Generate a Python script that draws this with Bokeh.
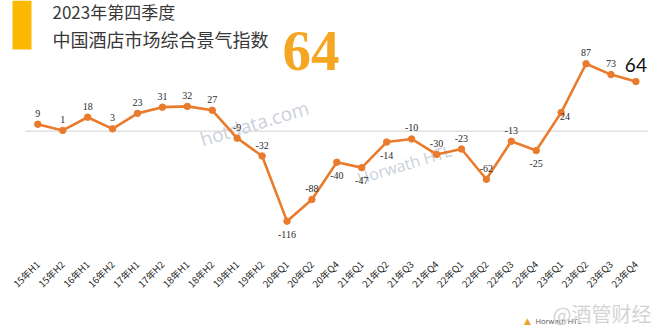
import math
from bokeh.plotting import figure
from bokeh.layouts import column
from bokeh.models import ColumnDataSource, Range1d, FixedTicker, LabelSet, Label, BoxAnnotation
from bokeh.embed import file_html
from bokeh.resources import INLINE

# ---- data ----
categories = ["15年H1", "15年H2", "16年H1", "16年H2", "17年H1", "17年H2", "18年H1", "18年H2",
              "19年H1", "19年H2", "20年Q1", "20年Q2", "20年Q4", "21年Q1", "21年Q2", "21年Q3",
              "21年Q4", "22年Q1", "22年Q2", "22年Q3", "22年Q4", "23年Q1", "23年Q2", "23年Q3", "23年Q4"]
values = [9, 1, 18, 3, 23, 31, 32, 27, -9, -32, -116, -88, -40, -47, -14, -10, -30, -23, -62,
          -13, -25, 24, 87, 73, 64]
# label placement style: "u" above the point, "d" below, "r" right-below
label_side = ["u", "u", "u", "u", "u", "u", "u", "u", "u", "u", "d", "u", "d", "d", "d", "u",
              "u", "u", "u", "u", "d", "r", "u", "u", "big"]
title_line1 = "2023年第四季度"
title_line2 = "中国酒店市场综合景气指数"
headline = str(values[-1])
watermarks = ["hotdata.com", "Horwath HTL", "@酒管财经"]

# ---- geometry (pixels) ----
W, H = 670, 334
MAIN_H = 292
FRAME_H = 250
FOOT_H = H - MAIN_H
ZERO_PX = 130.7
PX_PER_UNIT = 0.7754
STEP = 24.92
FIRST_PX = 37.3

x_start = -FIRST_PX / STEP
x_end = x_start + W / STEP
y_top = ZERO_PX / PX_PER_UNIT
y_bot = -(FRAME_H - ZERO_PX) / PX_PER_UNIT


def dx(px):
    return x_start + px / STEP


def dy(py):
    return (ZERO_PX - py) / PX_PER_UNIT


xs = list(range(len(categories)))
offsets = {"u": (0, 11), "d": (0, -13), "r": (4, -4), "big": (0, 16.5)}
small = [i for i, s in enumerate(label_side) if s != "big"]
src = ColumnDataSource(dict(
    x=[xs[i] for i in small],
    y=[values[i] for i in small],
    t=[str(values[i]) for i in small],
    xo=[offsets[label_side[i]][0] for i in small],
    yo=[offsets[label_side[i]][1] for i in small],
))
line_src = ColumnDataSource(dict(x=xs, y=values))

p = figure(frame_width=W, frame_height=FRAME_H, output_backend="svg", toolbar_location=None,
           x_range=Range1d(x_start, x_end), y_range=Range1d(y_bot, y_top),
           y_axis_location=None, min_border_left=0, min_border_right=0,
           min_border_top=0, min_border_bottom=MAIN_H - FRAME_H)
p.outline_line_color = None
p.grid.visible = False
p.background_fill_color = "white"
p.border_fill_color = "white"

# faint watermarks (behind the data)
p.add_layout(Label(x=dx(254), y=dy(123), text=watermarks[0], angle=math.radians(17),
                   text_align="center", text_baseline="middle", text_font="Open Sans",
                   text_font_size="19px", text_color="#CBD0DB", level="underlay"))
p.add_layout(Label(x=dx(404), y=dy(164), text=watermarks[1], angle=math.radians(17),
                   text_align="center", text_baseline="middle", text_font="Open Sans",
                   text_font_size="16px", text_color="#CBD0DB", level="underlay"))

# zero reference line
p.line(x=[-0.5, len(categories) - 0.5], y=[0, 0], line_color="#DADADA", line_width=1.2)

p.line(x="x", y="y", source=line_src, line_color="#EA7B2D", line_width=2.6)
p.scatter(x="x", y="y", source=line_src, size=6.5, fill_color="#EA7B2D", line_color="#EA7B2D")

p.add_layout(LabelSet(x="x", y="y", text="t", source=src, x_offset="xo", y_offset="yo",
                      text_align="center", text_baseline="middle", text_font="Lato",
                      text_font_size="10px", text_color="#2a2a2a"))
p.add_layout(Label(x=xs[-1], y=values[-1], text=headline, y_offset=offsets["big"][1],
                   text_align="center", text_baseline="middle", text_font="Lato",
                   text_font_size="19px", text_color="#111111"))

# x axis
ax = p.xaxis[0]
ax.ticker = FixedTicker(ticks=xs)
ax.major_label_overrides = {i: c for i, c in zip(xs, categories)}
ax.major_label_orientation = math.pi / 4
ax.axis_line_color = None
ax.major_tick_line_color = None
ax.minor_tick_line_color = None
ax.major_label_text_font = "Noto Sans CJK SC"
ax.major_label_text_font_size = "9.5px"
ax.major_label_text_color = "#262626"
ax.major_label_standoff = 6

# header
p.add_layout(BoxAnnotation(left=dx(12), right=dx(31), top=dy(0), bottom=dy(49),
                           fill_color="#FBB800", fill_alpha=1, line_color=None))
p.add_layout(Label(x=dx(52), y=dy(11), text=title_line1, text_baseline="middle",
                   text_font="Noto Sans CJK SC", text_font_size="17px", text_color="#383838"))
p.add_layout(Label(x=dx(52), y=dy(38.5), text=title_line2, text_baseline="middle",
                   text_font="Noto Sans CJK SC", text_font_size="18px", text_color="#383838"))
p.add_layout(Label(x=dx(282), y=dy(50), text=headline, text_baseline="alphabetic",
                   text_font="Liberation Serif", text_font_style="bold",
                   text_font_size="57px", text_color="#F5A623"))

# footer strip (logos / watermark), in pixel coordinates of the strip
f = figure(width=W, height=FOOT_H, output_backend="svg", toolbar_location=None,
           x_range=Range1d(0, W), y_range=Range1d(0, FOOT_H),
           x_axis_location=None, y_axis_location=None, min_border=0)
f.outline_line_color = None
f.grid.visible = False
f.border_fill_color = "white"


def fy(py):
    return FOOT_H - (py - MAIN_H)


f.add_layout(Label(x=527, y=fy(314), text="▲", text_align="center", text_baseline="middle",
                   text_font="DejaVu Sans", text_font_size="9px", text_color="#F0A030"))
f.add_layout(Label(x=535, y=fy(314), text=watermarks[1], text_baseline="middle",
                   text_font="Open Sans", text_font_size="7.5px", text_color="#555555"))
f.add_layout(Label(x=552, y=fy(307), text=watermarks[2], text_baseline="middle",
                   text_font="Noto Sans CJK SC", text_font_size="20px", text_color="#D4D4D4"))

layout = column(p, f, spacing=0)
open("out.html", "w").write(file_html(layout, INLINE))
